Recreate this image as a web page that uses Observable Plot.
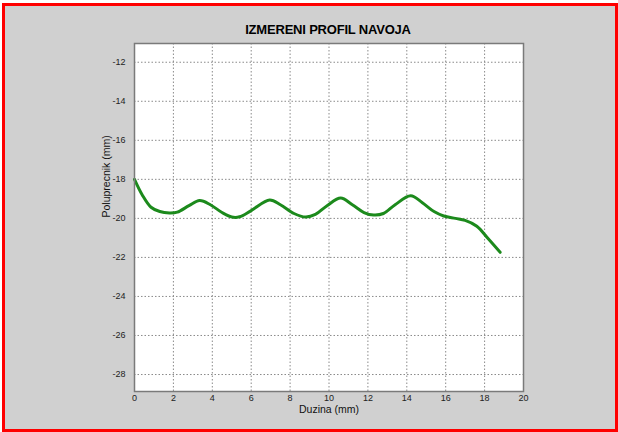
<!DOCTYPE html>
<html>
<head>
<meta charset="utf-8">
<script src="https://cdn.jsdelivr.net/npm/d3@7"></script>
<script src="https://cdn.jsdelivr.net/npm/@observablehq/plot@0.6"></script>
<style>
  html, body { margin: 0; padding: 0; background: #ffffff; }
  #frame { position: absolute; left: 2px; top: 3px; width: 610px; height: 423px; border: 3px solid #ff0000; background: #d0d0d0; }
  #chart { position: absolute; left: 0; top: 0; }
  #title { position: absolute; left: 0; width: 656px; top: 22px; text-align: center; font: bold 13px "Liberation Sans", Arial, sans-serif; color: #000; letter-spacing: -0.2px; }
</style>
</head>
<body>
<div id="frame"></div>
<div id="chart"></div>
<div id="title">IZMERENI PROFIL NAVOJA</div>
<script>
const xValues = [0, 0.4, 0.85, 1.3, 1.8, 2.2, 2.8, 3.35, 3.9, 4.5, 5.0, 5.4, 6.0, 6.95, 7.5, 8.2, 8.8, 9.3, 9.9, 10.6, 11.2, 11.8, 12.3, 12.8, 13.4, 14.2, 14.8, 15.4, 15.9, 16.5, 17.0, 17.6, 18.2, 18.8];
const yValues = [-18.0, -18.8, -19.43, -19.65, -19.72, -19.68, -19.35, -19.09, -19.3, -19.7, -19.93, -19.92, -19.6, -19.06, -19.3, -19.75, -19.93, -19.8, -19.35, -18.96, -19.3, -19.7, -19.83, -19.75, -19.3, -18.84, -19.2, -19.65, -19.88, -20.0, -20.1, -20.4, -21.06, -21.74];
const xTicks = [0, 2, 4, 6, 8, 10, 12, 14, 16, 18, 20];
const yTicks = [-12, -14, -16, -18, -20, -22, -24, -26, -28];
const data = xValues.map((x, i) => ({x, y: yValues[i]}));

const chart = Plot.plot({
  width: 618,
  height: 432,
  marginLeft: 134,
  marginRight: 95,
  marginTop: 43,
  marginBottom: 41,
  style: { background: "transparent", fontFamily: "'Liberation Sans', Arial, sans-serif", fontSize: "9px", color: "#222" },
  x: { domain: [0, 20], ticks: xTicks, label: null },
  y: { domain: [-28.87, -11.04], ticks: yTicks, label: null },
  marks: [
    Plot.frame({ fill: "white" }),
    Plot.gridX(xTicks, { stroke: "#8a8a8a", strokeOpacity: 1, strokeDasharray: "1.5,2" }),
    Plot.gridY(yTicks, { stroke: "#8a8a8a", strokeOpacity: 1, strokeDasharray: "1.5,2" }),
    Plot.axisX(xTicks, { tickSize: 0, tickPadding: 3, label: null, fontSize: 9 }),
    Plot.axisY(yTicks, { tickSize: 0, tickPadding: 9, label: null, fontSize: 9, tickFormat: d => "-" + Math.abs(d) }),
    Plot.line(data, { x: "x", y: "y", stroke: "#1c8a1c", strokeWidth: 3, curve: "catmull-rom" }),
    Plot.frame({ stroke: "#7a7a7a", strokeWidth: 1.5 }),
    Plot.text(["Duzina (mm)"], { frameAnchor: "bottom", dy: 14, lineAnchor: "top", fontSize: 10.5, fill: "#111" }),
    Plot.text(["Poluprecnik (mm)"], { frameAnchor: "left", dx: -28, rotate: -90, fontSize: 10.5, fill: "#111" })
  ]
});
document.getElementById("chart").appendChild(chart);
</script>
</body>
</html>
